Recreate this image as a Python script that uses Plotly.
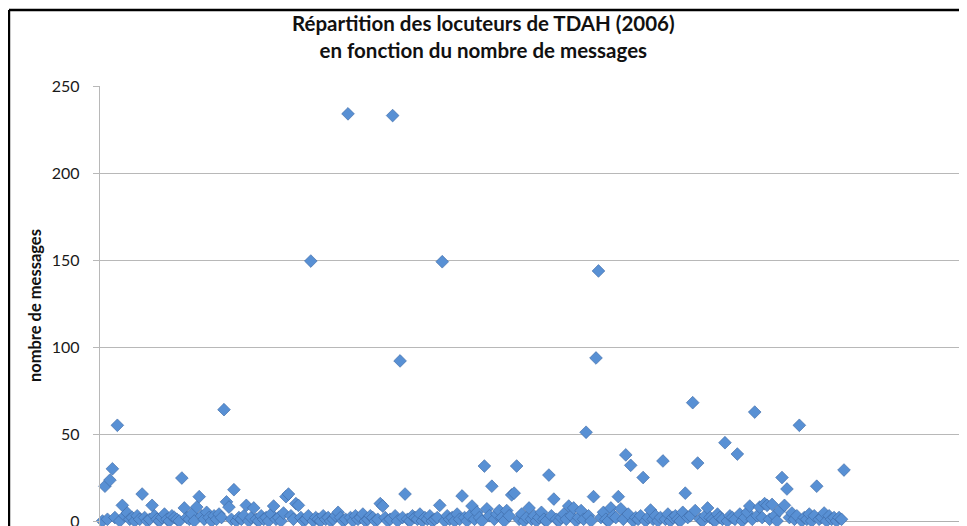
import plotly.graph_objects as go

# nombre de messages par locuteur
messages = [
    0, 20, 1, 23.5, 30, 2, 55, 0, 9, 3, 4.6, 1, 2, 0, 3, 1, 15.5, 2, 0, 1,
    9, 3, 1, 0, 2, 4, 1, 0, 3, 2, 1, 0, 24.7, 7.5, 2, 1, 4, 0, 8, 14,
    3, 1, 5, 2, 0, 3, 1, 4, 2, 64, 11, 8, 1, 18, 0, 2, 1, 3, 9, 0,
    2, 7.5, 1, 0, 3, 1, 2, 0, 4, 8.6, 1, 2, 0, 4.6, 14, 15.5, 3, 1, 10, 9,
    2, 0, 1, 3, 149.4, 0, 2, 1, 0, 3, 1, 2, 0, 1, 3, 5, 2, 0, 1, 234,
    2, 0, 3, 1, 2, 4, 0, 1, 3, 2, 0, 1, 10, 8.6, 2, 0, 1, 233, 3, 0,
    92, 2, 15.5, 1, 0, 3, 2, 1, 4, 0, 2, 1, 3, 0, 1, 2, 9, 149, 0, 3,
    1, 2, 0, 4, 1, 14.4, 2, 0, 3, 8.6, 1, 5, 2, 0, 31.6, 7, 3, 20, 1, 4,
    6, 2, 0, 6, 3, 15, 16, 31.6, 1, 4, 0, 2, 7.5, 1, 3, 0, 2, 5, 1, 0,
    26.4, 3, 12.6, 1, 0, 2, 4, 1, 8.6, 3, 7.5, 0, 2, 6, 1, 51, 3, 0, 14, 93.7,
    143.7, 2, 5, 1, 0, 7.5, 3, 2, 14, 7, 1, 38, 4, 32, 0, 2, 1, 3, 25, 0,
    2, 6.3, 1, 3, 0, 2, 34.5, 1, 4, 0, 2, 3, 1, 0, 5, 16, 2, 3, 68, 6,
    33.3, 1, 0, 3, 7.5, 2, 1, 0, 4, 2, 1, 45, 0, 3, 2, 1, 38.5, 4, 0, 2,
    5, 8.6, 1, 62.6, 3, 8, 2, 10, 9, 1, 9.5, 3, 0, 6, 25, 9, 18.4, 2, 4.6, 1,
    3, 55, 0, 2, 1, 4, 0, 3, 20, 1, 2, 4.6, 0, 3, 1, 2, 0, 2, 1, 29.3,
]
locuteurs = list(range(1, len(messages) + 1))

y_ticks = [0, 50, 100, 150, 200, 250]

fig = go.Figure()
fig.add_trace(go.Scatter(
    x=locuteurs, y=messages, mode="markers",
    marker=dict(symbol="diamond", size=9.8, color="#5890D4",
                line=dict(color="#3A67A2", width=0.6)),
    cliponaxis=False, showlegend=False,
))

# la page a une marge de 8px, d'ou 959x518
fig.update_layout(
    width=959, height=518,
    margin=dict(l=92, r=0, t=78, b=0),
    paper_bgcolor="white", plot_bgcolor="white",
    font=dict(family="Lato", color="#1a1a1a"),
    xaxis=dict(range=[0, 349.6], visible=False, automargin=False),
    yaxis=dict(
        range=[-2.87, 250], tickvals=y_ticks, automargin=False,
        showgrid=True, gridcolor="#b8b8b8", gridwidth=1.3,
        zeroline=True, zerolinecolor="#b0b0b0", zerolinewidth=1.3,
        showline=True, linecolor="#b8b8b8", linewidth=1.3,
        ticks="outside", ticklen=6, tickcolor="#b8b8b8", tickwidth=1.3,
        ticklabelstandoff=10, ticklabeloverflow="allow",
        tickfont=dict(size=16, family="Lato", color="#1a1a1a"),
    ),
    annotations=[
        dict(text="<b>Répartition des locuteurs de TDAH (2006)<br>en fonction du nombre de messages</b>",
             xref="paper", yref="paper", x=0.4429, y=1.1136,
             xanchor="center", yanchor="middle", showarrow=False,
             font=dict(size=20.5, family="Lato", color="#111")),
        dict(text="<b>nombre de messages</b>", textangle=-90,
             xref="paper", yref="paper", x=-0.075, y=0.502,
             xanchor="center", yanchor="middle", showarrow=False,
             font=dict(size=16.5, family="Lato", color="#111")),
    ],
    shapes=[
        dict(type="line", xref="paper", yref="paper",
             x0=-0.105, x1=-0.105, y0=-0.1, y1=1.1727,
             line=dict(color="black", width=2.5)),
        dict(type="line", xref="paper", yref="paper",
             x0=-0.105, x1=1.1, y0=1.1727, y1=1.1727,
             line=dict(color="black", width=2.5)),
    ],
)

fig.write_html("out.html")
